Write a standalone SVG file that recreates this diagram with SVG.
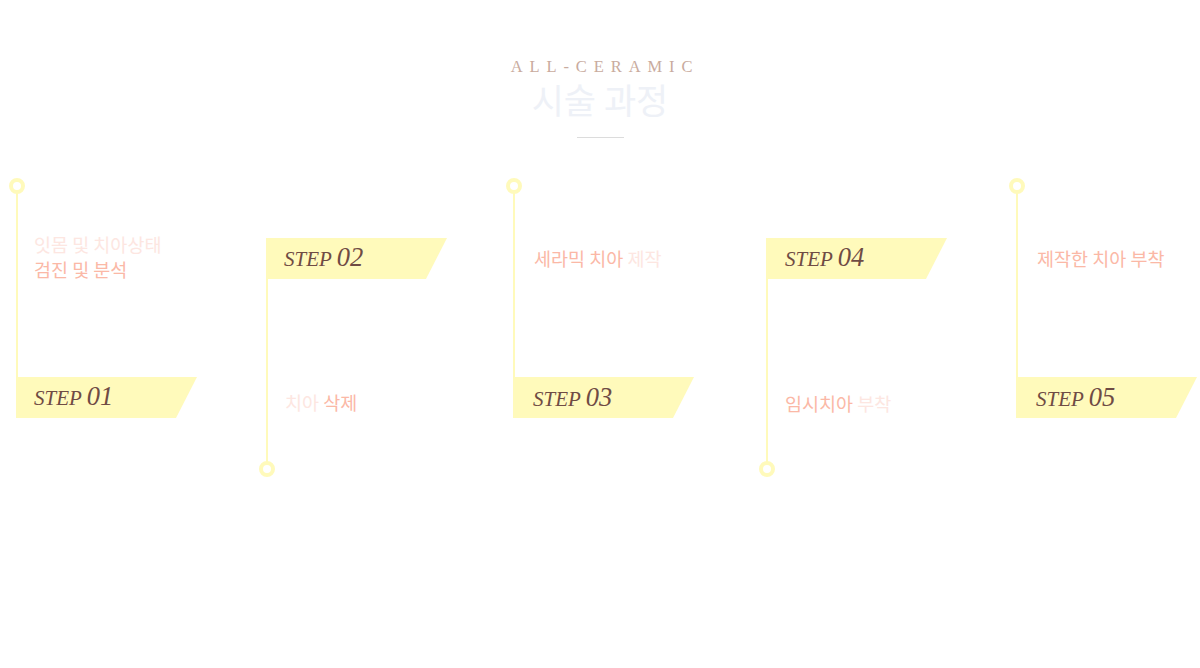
<svg xmlns="http://www.w3.org/2000/svg" width="1200" height="668" viewBox="0 0 1200 668">
<style>
.ttl{font-family:"Liberation Serif",serif;font-size:16.5px;letter-spacing:6.9px;fill:#c9ab9e;}
.ko{font-family:"Noto Sans CJK KR","Noto Sans",sans-serif;}
.big{font-size:35px;fill:#eef1f7;}
.lbl{font-size:18.5px;fill:#fbb8a6;}
.pale{fill:#fde6e1;}
.step{font-family:"Liberation Serif",serif;font-style:italic;fill:#6f4b44;}
.s{font-size:21px;}
.n{font-size:26.5px;}
.flag{fill:#fffabb;}
.line{stroke:#fffabb;stroke-width:2;fill:none;}
.dot{fill:#fff;stroke:#fffabb;stroke-width:4;}
</style>
<rect width="1200" height="668" fill="#fff"/>
<g id="title">
<text class="ttl" x="605" y="72" text-anchor="middle">ALL-CERAMIC</text>
<text class="ko big" x="600" y="114" text-anchor="middle">시술 과정</text>
<line x1="577" y1="137.5" x2="624" y2="137.5" stroke="#dcdcdc" stroke-width="1"/>
</g>
<g id="connectors">
<line class="line" x1="17" y1="192" x2="17" y2="378"/>
<line class="line" x1="267" y1="278" x2="267" y2="463"/>
<line class="line" x1="514" y1="192" x2="514" y2="378"/>
<line class="line" x1="767" y1="278" x2="767" y2="463"/>
<line class="line" x1="1017" y1="192" x2="1017" y2="378"/>
</g>
<g id="step1">
<circle class="dot" cx="17" cy="186" r="6"/>
<text class="ko lbl pale" x="34" y="252">잇몸 및 치아상태</text>
<text class="ko lbl" x="34" y="277">검진 및 분석</text>
<polygon class="flag" points="16,377 197,377 176,418 16,418"/>
<text class="step" x="34" y="405"><tspan class="s">STEP </tspan><tspan class="n">01</tspan></text>
</g>
<g id="step2">
<polygon class="flag" points="266,238 447,238 426,279 266,279"/>
<text class="step" x="284" y="266"><tspan class="s">STEP </tspan><tspan class="n">02</tspan></text>
<text class="ko lbl" x="285" y="410"><tspan class="pale">치아</tspan> 삭제</text>
<circle class="dot" cx="267" cy="469" r="6"/>
</g>
<g id="step3">
<circle class="dot" cx="514" cy="186" r="6"/>
<text class="ko lbl" x="534" y="266">세라믹 치아 <tspan class="pale">제작</tspan></text>
<polygon class="flag" points="513,377 694,377 673,418 513,418"/>
<text class="step" x="533" y="406"><tspan class="s">STEP </tspan><tspan class="n">03</tspan></text>
</g>
<g id="step4">
<polygon class="flag" points="766,238 947,238 926,279 766,279"/>
<text class="step" x="785" y="266"><tspan class="s">STEP </tspan><tspan class="n">04</tspan></text>
<text class="ko lbl" x="785" y="411">임시치아 <tspan class="pale">부착</tspan></text>
<circle class="dot" cx="767" cy="469" r="6"/>
</g>
<g id="step5">
<circle class="dot" cx="1017" cy="186" r="6"/>
<text class="ko lbl" x="1037" y="266">제작한 치아 부착</text>
<polygon class="flag" points="1016,377 1197,377 1176,418 1016,418"/>
<text class="step" x="1036" y="406"><tspan class="s">STEP </tspan><tspan class="n">05</tspan></text>
</g>
</svg>
